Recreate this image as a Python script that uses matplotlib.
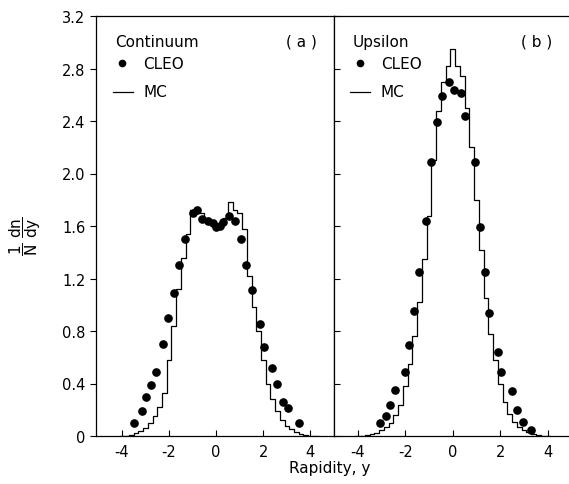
import matplotlib
matplotlib.use('Agg')
import matplotlib.pyplot as plt
import numpy as np

plt.rcParams.update({'font.family': 'DejaVu Sans', 'font.size': 10.5,
                     'mathtext.fontset': 'dejavusans'})

# MC histograms, bins of width 0.2 centred on these values
mc_a_centres = [-4.0, -3.8, -3.6, -3.4, -3.2, -3.0, -2.8, -2.6, -2.4, -2.2, -2.0,
                -1.8, -1.6, -1.4, -1.2, -1.0, -0.8, -0.6, -0.4, -0.2, 0.0,
                0.2, 0.4, 0.6, 0.8, 1.0, 1.2, 1.4, 1.6, 1.8, 2.0,
                2.2, 2.4, 2.6, 2.8, 3.0, 3.2, 3.4, 3.6, 3.8, 4.0, 4.2]
mc_a = [0.0, 0.003, 0.01, 0.02, 0.035, 0.06, 0.10, 0.15, 0.22, 0.33, 0.58,
        0.84, 1.12, 1.36, 1.54, 1.72, 1.74, 1.70, 1.66, 1.62, 1.58,
        1.60, 1.66, 1.78, 1.72, 1.70, 1.58, 1.22, 0.98, 0.80, 0.58,
        0.40, 0.28, 0.19, 0.12, 0.08, 0.05, 0.03, 0.018, 0.008, 0.002, 0.0]

mc_b_centres = [-4.0, -3.8, -3.6, -3.4, -3.2, -3.0, -2.8, -2.6, -2.4, -2.2, -2.0,
                -1.8, -1.6, -1.4, -1.2, -1.0, -0.8, -0.6, -0.4, -0.2, 0.0,
                0.2, 0.4, 0.6, 0.8, 1.0, 1.2, 1.4, 1.6, 1.8, 2.0,
                2.2, 2.4, 2.6, 2.8, 3.0, 3.2, 3.4, 3.6, 3.8, 4.0]
mc_b = [0.0, 0.002, 0.005, 0.012, 0.025, 0.045, 0.07, 0.10, 0.16, 0.24, 0.38,
        0.55, 0.76, 1.02, 1.35, 1.68, 2.10, 2.48, 2.70, 2.82, 2.95,
        2.82, 2.74, 2.50, 2.20, 1.80, 1.42, 1.05, 0.78, 0.58, 0.40,
        0.26, 0.17, 0.11, 0.07, 0.045, 0.028, 0.015, 0.006, 0.002, 0.0]

# CLEO data points
cleo_a_y = [-3.48, -3.13, -2.99, -2.77, -2.55, -2.26, -2.06, -1.80, -1.56, -1.31,
            -1.00, -0.82, -0.60, -0.35, -0.15, 0.0, 0.15, 0.30, 0.55, 0.80,
            1.05, 1.28, 1.52, 1.84, 2.04, 2.37, 2.57, 2.82, 3.03, 3.50]
cleo_a = [0.10, 0.19, 0.30, 0.39, 0.49, 0.70, 0.90, 1.09, 1.30, 1.50,
          1.70, 1.72, 1.65, 1.64, 1.62, 1.59, 1.60, 1.63, 1.68, 1.64,
          1.50, 1.30, 1.11, 0.85, 0.68, 0.52, 0.40, 0.26, 0.21, 0.10]

cleo_b_y = [-3.07, -2.82, -2.63, -2.42, -2.00, -1.85, -1.63, -1.44, -1.14, -0.92,
            -0.68, -0.45, -0.17, 0.04, 0.33, 0.53, 0.96, 1.13, 1.36, 1.51,
            1.92, 2.03, 2.49, 2.72, 2.97, 3.28]
cleo_b = [0.10, 0.15, 0.24, 0.35, 0.49, 0.69, 0.95, 1.25, 1.64, 2.09,
          2.39, 2.59, 2.70, 2.64, 2.61, 2.44, 2.09, 1.59, 1.25, 0.94,
          0.64, 0.49, 0.34, 0.20, 0.11, 0.045]

yticks = [0, 0.4, 0.8, 1.2, 1.6, 2.0, 2.4, 2.8, 3.2]
ytick_labels = ['0', '0.4', '0.8', '1.2', '1.6', '2.0', '2.4', '2.8', '3.2']
xticks = [-4, -2, 0, 2, 4]


def steps(centres, vals, w=0.2):
    edges = np.append(np.array(centres) - w / 2, centres[-1] + w / 2)
    return edges, np.append(vals, vals[-1])


fig = plt.figure(figsize=(5.69, 4.85), dpi=100)
axa = fig.add_axes([96 / 569, 48 / 485, 238 / 569, 420 / 485])
axb = fig.add_axes([334 / 569, 48 / 485, 235 / 569, 420 / 485])

panels = [(axa, mc_a_centres, mc_a, cleo_a_y, cleo_a, 'Continuum', '( a )', (-5.1, 5.0)),
          (axb, mc_b_centres, mc_b, cleo_b_y, cleo_b, 'Upsilon', '( b )', (-5.0, 4.9))]

for ax, mc_x, mc_v, dx, dv, title, tag, xl in panels:
    e, v = steps(mc_x, mc_v)
    ax.step(e, v, where='post', color='k', lw=0.9, label='MC')
    ax.plot(dx, dv, 'ko', ms=5.2, ls='none', label='CLEO')
    ax.set_xlim(*xl)
    ax.set_ylim(0, 3.2)
    ax.set_xticks(xticks)
    ax.set_xticklabels(['-4', '-2', '0', '2', '4'])
    ax.set_yticks(yticks)
    ax.tick_params(axis='x', direction='in', length=4, width=0.8, pad=6)
    for s in ax.spines.values():
        s.set_linewidth(0.9)
    ax.text(0.08, 0.94, title, transform=ax.transAxes, fontsize=11, va='center')
    ax.text(0.93, 0.94, tag, transform=ax.transAxes, fontsize=11, va='center', ha='right')
    ax.plot([0.11], [0.887], 'ko', ms=4.5, transform=ax.transAxes)
    ax.text(0.2, 0.887, 'CLEO', transform=ax.transAxes, fontsize=11, va='center')
    ax.plot([0.07, 0.155], [0.82, 0.82], 'k-', lw=0.9, transform=ax.transAxes)
    ax.text(0.2, 0.82, 'MC', transform=ax.transAxes, fontsize=11, va='center')

axa.set_yticklabels(ytick_labels)
axa.tick_params(axis='y', direction='out', length=4, width=0.8)
axb.set_yticklabels([])
axb.tick_params(axis='y', direction='in', length=4, width=0.8)
axb.spines['right'].set_visible(False)

fig.text(0.58, 0.025, 'Rapidity, y', ha='center', fontsize=11)
fig.text(0.045, 1 - 236 / 485, r'$\dfrac{\mathrm{1}}{\mathrm{N}}\ \dfrac{\mathrm{dn}}{\mathrm{dy}}$',
         rotation=90, ha='center', va='center', fontsize=11)

fig.savefig('out.png', dpi=100)
